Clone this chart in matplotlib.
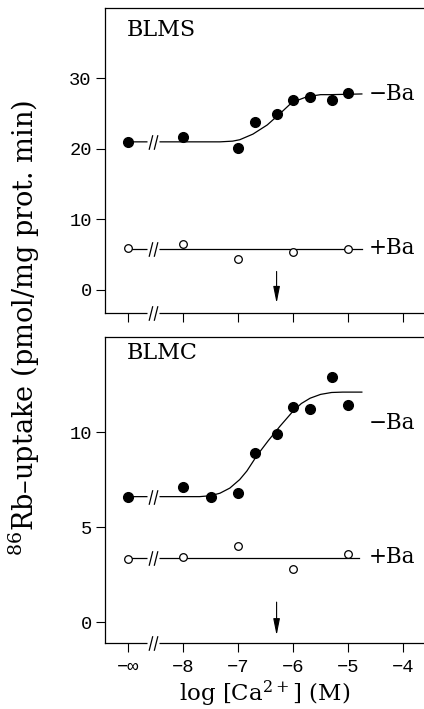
import matplotlib
matplotlib.use('Agg')
import matplotlib.pyplot as plt
from matplotlib.path import Path
from matplotlib.transforms import blended_transform_factory

plt.rcParams['mathtext.fontset'] = 'dejavuserif'
plt.rcParams['font.family'] = ['DejaVu Serif']

# x positions: log[Ca2+]; -inf is placed at -9 on the axis
x_ticks = [-9, -8, -7, -6, -5, -4]
x_ticklabels = ['−∞', '−8', '−7', '−6', '−5', '−4']
x_break = -8.55
x_arrow = -6.3

# BLMS
blms_minus_x = [-9, -8, -7, -6.7, -6.3, -6, -5.7, -5.3, -5]
blms_minus_y = [21.0, 21.7, 20.1, 23.8, 24.9, 27.0, 27.3, 27.0, 27.9]
blms_plus_x = [-9, -8, -7, -6, -5]
blms_plus_y = [6.0, 6.5, 4.4, 5.4, 5.8]
blms_fit_x = [-9, -7.33, -7.1, -6.97, -6.73, -6.47, -6.24, -6.02, -5.75, -5.5, -5.32, -4.75]
blms_fit_y = [21.0, 21.0, 21.1, 21.3, 22.1, 23.4, 25.0, 26.6, 27.4, 27.7, 27.7, 27.8]
blms_plus_fit_x = [-9, -4.75]
blms_plus_fit_y = [5.8, 5.8]

# BLMC
blmc_minus_x = [-9, -8, -7.5, -7, -6.7, -6.3, -6, -5.7, -5.3, -5]
blmc_minus_y = [6.6, 7.1, 6.6, 6.8, 8.9, 9.9, 11.3, 11.2, 12.9, 11.4]
blmc_plus_x = [-9, -8, -7, -6, -5]
blmc_plus_y = [3.3, 3.4, 4.0, 2.8, 3.6]
blmc_fit_x = [-9, -7.7, -7.5, -7.33, -7.15, -6.97, -6.84, -6.66, -6.45, -6.24, -6.0, -5.85, -5.69, -5.5, -5.3, -5.1, -4.75]
blmc_fit_y = [6.6, 6.6, 6.65, 6.78, 7.05, 7.5, 7.95, 8.75, 9.55, 10.3, 11.1, 11.5, 11.78, 11.98, 12.08, 12.1, 12.1]
blmc_plus_fit_x = [-9, -4.8]
blmc_plus_fit_y = [3.35, 3.35]

panels = [
    dict(name='BLMS', mx=blms_minus_x, my=blms_minus_y, px=blms_plus_x, py=blms_plus_y,
         fx=blms_fit_x, fy=blms_fit_y, pfx=blms_plus_fit_x, pfy=blms_plus_fit_y,
         ylim=(-3.3, 40), yticks=[0, 10, 20, 30], minus_lab=27.8, plus_lab=5.9,
         arrow=(2.6, -1.9), name_y=0.965, rect=[0.2476, 0.5585, 0.7524, 0.4302]),
    dict(name='BLMC', mx=blmc_minus_x, my=blmc_minus_y, px=blmc_plus_x, py=blmc_plus_y,
         fx=blmc_fit_x, fy=blmc_fit_y, pfx=blmc_plus_fit_x, pfy=blmc_plus_fit_y,
         ylim=(-1.1, 15), yticks=[0, 5, 10], minus_lab=10.5, plus_lab=3.4,
         arrow=(1.05, -0.7), name_y=0.985, rect=[0.2476, 0.0931, 0.7524, 0.4316]),
]

slash = Path([(-0.6, -1), (-0.1, 1), (0.1, -1), (0.6, 1)],
             [Path.MOVETO, Path.LINETO, Path.MOVETO, Path.LINETO])
gap = Path([(-0.4, -0.2), (0.4, -0.2), (0.4, 0.2), (-0.4, 0.2), (-0.4, -0.2)],
           [Path.MOVETO, Path.LINETO, Path.LINETO, Path.LINETO, Path.CLOSEPOLY])
mono = ['Liberation Mono', 'DejaVu Sans Mono']

fig = plt.figure(figsize=(4.24, 7.09), dpi=100)

for i, p in enumerate(panels):
    ax = fig.add_axes(p['rect'])
    ax.set_xlim(-9.42, -3.62)
    ax.set_ylim(*p['ylim'])
    ax.spines['right'].set_visible(False)
    for s in ax.spines.values():
        s.set_linewidth(0.9)
    ax.tick_params(direction='out', length=6.5, width=0.8, pad=3)
    ax.tick_params(axis='x', pad=5)
    ax.set_xticks(x_ticks)
    ax.set_yticks(p['yticks'])
    ax.set_yticklabels([str(v) for v in p['yticks']], family=mono, fontsize=13.5)
    if i == 1:
        ax.set_xticklabels(x_ticklabels, family=mono, fontsize=13.5)
        ax.set_xlabel(r'log [Ca$^{2+}$] (M)', fontsize=16.5, labelpad=2)
    else:
        ax.set_xticklabels([])

    # fitted lines
    ax.plot(p['fx'], p['fy'], color='black', lw=0.9, zorder=2)
    ax.plot(p['pfx'], p['pfy'], color='black', lw=0.9, zorder=2)
    # data
    ax.plot(p['mx'], p['my'], 'o', ms=7, color='black', zorder=5)
    ax.plot(p['px'], p['py'], 'o', ms=5.5, mfc='white', mec='black', mew=0.9, zorder=5)

    # axis breaks on the lines
    for yb in (p['fy'][0], p['pfy'][0]):
        ax.plot(x_break, yb, marker=gap, ms=8, mfc='white', mec='none', ls='none', zorder=3)
        ax.plot(x_break, yb, marker=slash, ms=10.5, mfc='none', mec='black', mew=0.9, ls='none', zorder=4)
    # axis break on the bottom spine
    tr = blended_transform_factory(ax.transData, ax.transAxes)
    ax.plot(x_break, 0, marker=gap, ms=8, mfc='white', mec='none', ls='none',
            transform=tr, clip_on=False, zorder=3)
    ax.plot(x_break, 0, marker=slash, ms=10.5, mfc='none', mec='black', mew=0.9, ls='none',
            transform=tr, clip_on=False, zorder=4)

    ax.annotate('', xy=(x_arrow, p['arrow'][1]), xytext=(x_arrow, p['arrow'][0]),
                arrowprops=dict(arrowstyle='-|>,head_length=1.0,head_width=0.2',
                                color='black', lw=0.8, shrinkA=0, shrinkB=0))

    ax.text(-4.62, p['minus_lab'], '−Ba', fontsize=15.5, va='center', ha='left')
    ax.text(-4.62, p['plus_lab'], '+Ba', fontsize=15.5, va='center', ha='left')
    ax.text(0.068, p['name_y'], p['name'], transform=ax.transAxes, fontsize=16,
            va='top', ha='left')

fig.text(0.058, 0.537, r'$^{86}$Rb–uptake (pmol/mg prot. min)', rotation=90,
         fontsize=19.5, va='center', ha='center')

fig.savefig('out.png', dpi=100)
